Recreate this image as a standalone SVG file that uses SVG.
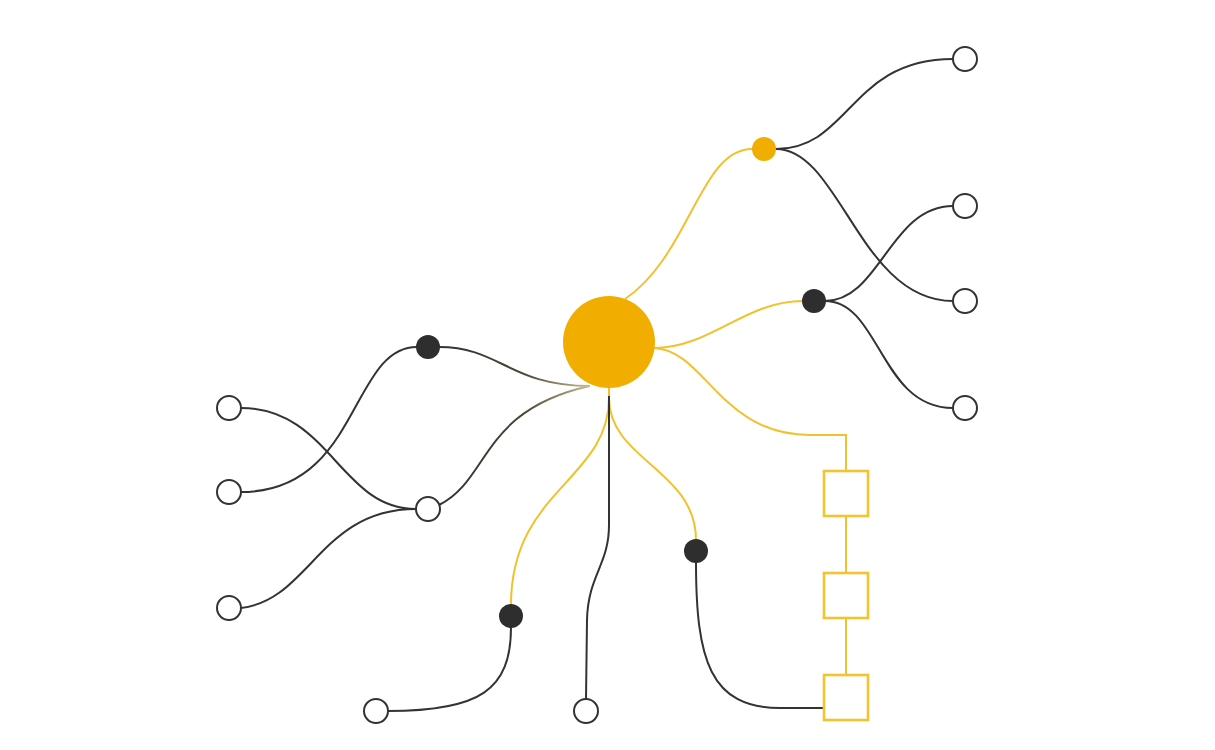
<svg xmlns="http://www.w3.org/2000/svg" width="1215" height="750" viewBox="0 0 1215 750">
  <style>
    .y { fill: none; stroke: #F2C12E; stroke-width: 2; }
    .k { fill: none; stroke: #333333; stroke-width: 2; }
    .open { fill: #ffffff; stroke: #333333; stroke-width: 2; }
    .dot { fill: #2e2e2e; }
    .hub { fill: #F2AE00; }
    .sq { fill: #ffffff; stroke: #F4C430; stroke-width: 2.6; }
  </style>
  <defs>
    <linearGradient id="fadeL" gradientUnits="userSpaceOnUse" x1="440" y1="0" x2="592" y2="0">
      <stop offset="0" stop-color="#333333"/>
      <stop offset="0.55" stop-color="#4a4536"/>
      <stop offset="1" stop-color="#cdbf95"/>
    </linearGradient>
  </defs>
  <rect width="1215" height="750" fill="#ffffff"/>
  <g id="connectors">
    <path class="y" d="M 625 299 C 690 255, 700 149, 752 149"/>
    <path class="y" d="M 654 348 C 710 348, 745 301, 803 301"/>
    <path class="y" d="M 654 348 C 705 350, 720 435, 810 435 L 846 435 L 846 470"/>
    <path class="y" d="M 846 517 L 846 572"/>
    <path class="y" d="M 846 618 L 846 674"/>
    <path class="y" d="M 609 388 L 609 398 C 609 480, 511 490, 511 605"/>
    <path class="y" d="M 609 388 L 609 398 C 609 460, 696 470, 696 540"/>
    <path class="k" d="M 609 396 L 609 525 C 609 565, 588 575, 587 620 L 586 699"/>
    <path class="k" d="M 776 149 C 850 149, 850 59, 953 59"/>
    <path class="k" d="M 776 149 C 840 149, 860 301, 953 301"/>
    <path class="k" d="M 825 301 C 880 301, 890 206, 953 206"/>
    <path class="k" d="M 825 301 C 880 301, 880 408, 953 408"/>
    <path fill="none" stroke="url(#fadeL)" stroke-width="2" d="M 439 347 C 500 347, 510 386, 590 386"/>
    <path fill="none" stroke="url(#fadeL)" stroke-width="2" d="M 590 386 C 480 410, 490 480, 439 505"/>
    <path class="k" d="M 417 347 C 350 347, 360 492, 241 492"/>
    <path class="k" d="M 241 408 C 330 408, 340 509, 416 509"/>
    <path class="k" d="M 241 608 C 310 600, 320 509, 416 509"/>
    <path class="k" d="M 511 627 C 511 690, 480 711, 388 711"/>
    <path class="k" d="M 696 562 C 696 660, 710 708, 780 708 L 824 708"/>
  </g>
  <g id="hub"><circle class="hub" cx="609" cy="342" r="46"/></g>
  <g id="n-orange"><circle class="hub" cx="764" cy="149" r="12"/></g>
  <g id="n-black-r"><circle class="dot" cx="814" cy="301" r="12"/></g>
  <g id="n-black-l"><circle class="dot" cx="428" cy="347" r="12"/></g>
  <g id="n-black-b1"><circle class="dot" cx="511" cy="616" r="12"/></g>
  <g id="n-black-b2"><circle class="dot" cx="696" cy="551" r="12"/></g>
  <g id="o1"><circle class="open" cx="965" cy="59" r="12"/></g>
  <g id="o2"><circle class="open" cx="965" cy="206" r="12"/></g>
  <g id="o3"><circle class="open" cx="965" cy="301" r="12"/></g>
  <g id="o4"><circle class="open" cx="965" cy="408" r="12"/></g>
  <g id="o5"><circle class="open" cx="229" cy="408" r="12"/></g>
  <g id="o6"><circle class="open" cx="229" cy="492" r="12"/></g>
  <g id="o7"><circle class="open" cx="229" cy="608" r="12"/></g>
  <g id="o8"><circle class="open" cx="428" cy="509" r="12"/></g>
  <g id="o9"><circle class="open" cx="376" cy="711" r="12"/></g>
  <g id="o10"><circle class="open" cx="586" cy="711" r="12"/></g>
  <g id="s1"><rect class="sq" x="824" y="471" width="44" height="45"/></g>
  <g id="s2"><rect class="sq" x="824" y="573" width="44" height="45"/></g>
  <g id="s3"><rect class="sq" x="824" y="675" width="44" height="45"/></g>
</svg>
